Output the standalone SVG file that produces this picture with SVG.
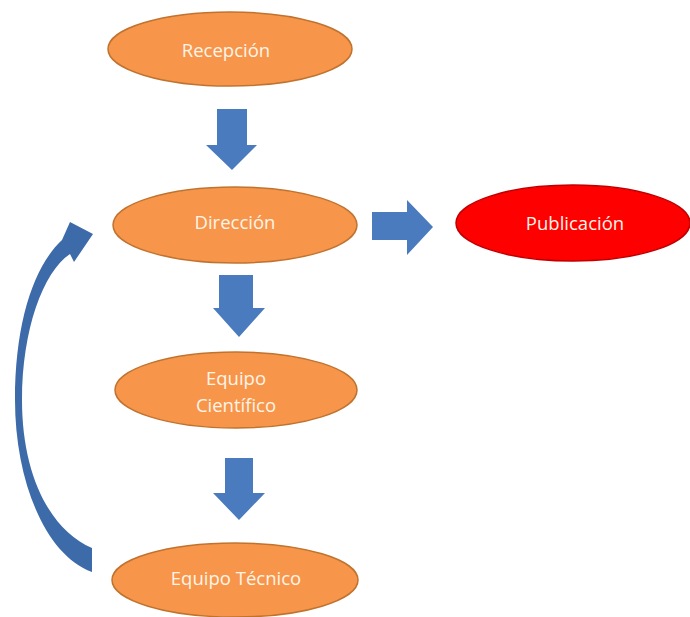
<svg xmlns="http://www.w3.org/2000/svg" width="690" height="617" viewBox="0 0 690 617">
<style>
.node{fill:#F7964A;stroke:#C0732F;stroke-width:1.5}
.pub{fill:#FF0000;stroke:#C00000;stroke-width:1.5}
.lbl{font-family:"Open Sans","Liberation Sans",sans-serif;font-size:18.5px;fill:#FFF4E8;text-anchor:middle;dominant-baseline:central}
.arr{fill:#4A7BBF}
.carr{fill:#3D6BAA}
</style>
<rect width="690" height="617" fill="#FFFFFF"/>
<g id="connectors">
<polygon class="arr" points="217,109 247,109 247,145 257,145 232,170 206,145 217,145"/>
<polygon class="arr" points="372,212 407,212 407,200 433,227 407,255 407,240 372,240"/>
<polygon class="arr" points="219,275 253,275 253,308 265,308 239,337 213,308 219,308"/>
<polygon class="arr" points="225,458 253,458 253,493 265,493 239,520 213,493 225,493"/>
<path class="carr" d="M92,572 C45,555 15,480 15,400 C15,322 34,266 62,240 L70,222 L93,234 L74,262 L70,254 C43,272 22,330 22,400 C22,475 50,530 92,548 Z"/>
</g>
<g id="recepcion">
<ellipse class="node" cx="230" cy="49" rx="122" ry="37"/>
<text class="lbl" x="226" y="49">Recepción</text>
</g>
<g id="direccion">
<ellipse class="node" cx="235" cy="225" rx="122" ry="38"/>
<text class="lbl" x="235" y="221">Dirección</text>
</g>
<g id="publicacion">
<ellipse class="pub" cx="573" cy="223" rx="117" ry="38"/>
<text class="lbl" x="575" y="222">Publicación</text>
</g>
<g id="equipo-cientifico">
<ellipse class="node" cx="236" cy="390" rx="121" ry="38"/>
<text class="lbl" x="236" y="377">Equipo</text>
<text class="lbl" x="236" y="404">Científico</text>
</g>
<g id="equipo-tecnico">
<ellipse class="node" cx="235" cy="580" rx="123" ry="37"/>
<text class="lbl" x="236" y="577">Equipo Técnico</text>
</g>
</svg>
